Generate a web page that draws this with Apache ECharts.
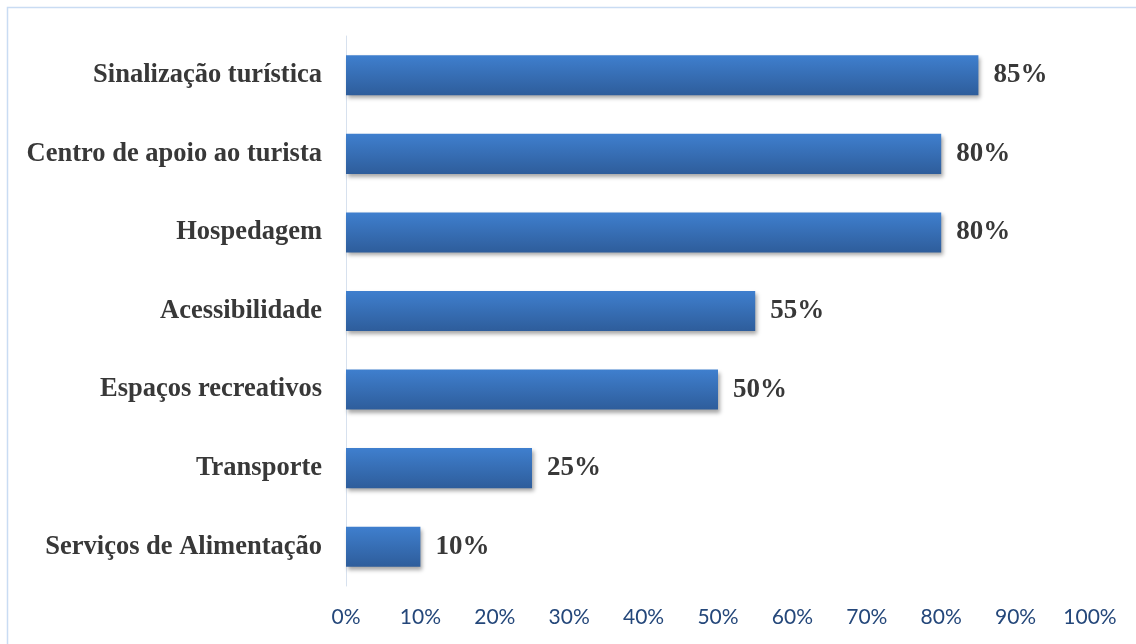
<!DOCTYPE html>
<html><head><meta charset="utf-8">
<script src="https://cdn.jsdelivr.net/npm/echarts@6/dist/echarts.min.js"></script>
<style>html,body{margin:0;padding:0;background:#fff}#c{width:1136px;height:644px}</style>
</head><body><div id="c"></div>
<script>
const categories = ['Serviços de Alimentação','Transporte','Espaços recreativos','Acessibilidade','Hospedagem','Centro de apoio ao turista','Sinalização turística'];
const values = [10,25,50,55,80,80,85];
const xTicks = [0,10,20,30,40,50,60,70,80,90,100];

const serif = "'Liberation Serif', 'Times New Roman', serif";
const chart = echarts.init(document.getElementById('c'));
chart.setOption({
  animation:false,
  graphic:[{type:'rect',shape:{x:7.5,y:7.5,width:1200,height:700},style:{fill:'none',stroke:'#c9dcf3',lineWidth:1.5},silent:true}],
  grid:{left:346,right:46,top:36,bottom:58},
  xAxis:{type:'value',min:0,max:100,interval:10,
    axisLine:{show:false},axisTick:{show:false},splitLine:{show:false},
    axisLabel:{formatter:v=>v+'%',color:'#24477a',fontFamily:'Lato',fontSize:21,margin:21}},
  yAxis:{type:'category',data:categories,
    axisLine:{show:true,lineStyle:{color:'#d7e1ee',width:1}},axisTick:{show:false},
    axisLabel:{color:'#383838',fontFamily:serif,fontWeight:'bold',fontSize:26.5,margin:24}},
  series:[{type:'bar',data:values,barCategoryGap:'49%',
    itemStyle:{color:new echarts.graphic.LinearGradient(0,0,0,1,[{offset:0,color:'#3f7fce'},{offset:1,color:'#2e5d9b'}]),
      shadowColor:'rgba(0,0,0,0.35)',shadowBlur:4,shadowOffsetX:2,shadowOffsetY:3},
    label:{show:true,position:'right',distance:15,formatter:p=>p.value+'%',color:'#383838',fontFamily:serif,fontWeight:'bold',fontSize:27}}]
});
</script></body></html>
